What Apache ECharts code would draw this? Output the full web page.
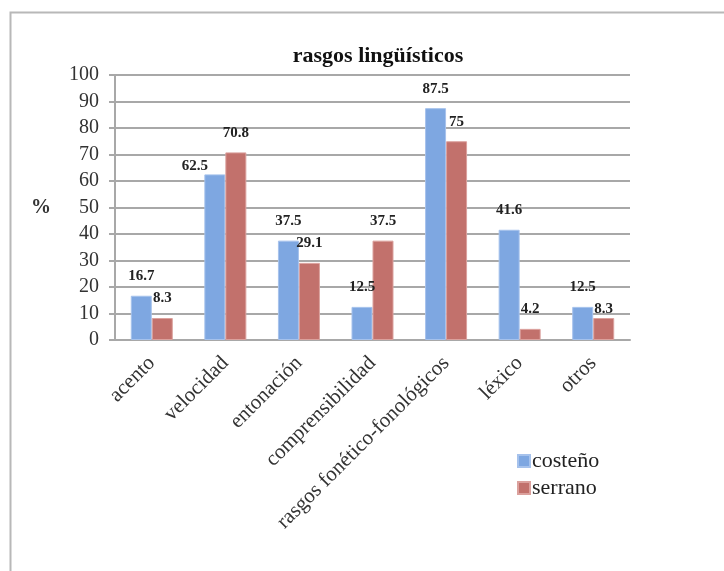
<!DOCTYPE html>
<html><head><meta charset="utf-8">
<script src="https://cdn.jsdelivr.net/npm/echarts@6/dist/echarts.min.js"></script>
<style>html,body{margin:0;padding:0;background:#fff}#c{width:724px;height:571px}</style>
</head><body><div id="c"></div>
<script>
const categories = ['acento','velocidad','entonación','comprensibilidad','rasgos fonético-fonológicos','léxico','otros'];
const costeno = [16.7, 62.5, 37.5, 12.5, 87.5, 41.6, 12.5];
const serrano = [8.3, 70.8, 29.1, 37.5, 75, 4.2, 8.3];
const yTicks = {min: 0, max: 100, interval: 10};
// manual label nudges (Excel moved a couple of labels)
const costenoLabelOffsets = {1: [-20, 11]};
const serranoLabelOffsets = {6: [0, 11]};

const serif = '"Liberation Serif", "DejaVu Serif", serif';
function withOffsets(vals, offs) {
  return vals.map((v, i) => offs[i] ? {value: v, label: {offset: offs[i]}} : v);
}
const chart = echarts.init(document.getElementById('c'));
chart.setOption({
  animation: false,
  backgroundColor: '#fff',
  graphic: [{type: 'rect', left: 8, top: 10, shape: {width: 800, height: 700},
    style: {fill: 'none', stroke: '#b8b8b8', lineWidth: 2}, z: -1}],
  title: {text: 'rasgos lingüísticos', left: 373, top: 40, textAlign: 'center',
    textStyle: {fontFamily: serif, fontWeight: 'bold', fontSize: 22, color: '#111'}},
  legend: {orient: 'vertical', left: 517, top: 450, padding: 0, itemWidth: 12, itemHeight: 12, itemGap: 5,
    icon: 'rect', textStyle: {fontFamily: serif, fontSize: 22, color: '#222', padding: [0, 0, 0, -3]}},
  grid: {left: 115, right: 94, top: 75, bottom: 231},
  xAxis: {type: 'category', data: categories,
    axisLine: {lineStyle: {color: '#a8a8a8', width: 2}},
    axisTick: {length: 6, lineStyle: {color: '#a8a8a8', width: 2}},
    axisLabel: {rotate: 45, margin: 20, interval: 0, fontFamily: serif, fontSize: 21, color: '#333'}},
  yAxis: {type: 'value', min: yTicks.min, max: yTicks.max, interval: yTicks.interval,
    name: '%', nameLocation: 'middle', nameRotate: 0, nameGap: 64,
    nameTextStyle: {fontFamily: serif, fontSize: 20, fontWeight: 'bold', color: '#333'},
    axisLine: {show: true, lineStyle: {color: '#a8a8a8', width: 2}},
    axisTick: {show: true, length: 6, lineStyle: {color: '#a8a8a8', width: 2}},
    splitLine: {lineStyle: {color: '#a8a8a8', width: 2}},
    axisLabel: {margin: 16, fontFamily: serif, fontSize: 20, color: '#333'}},
  series: [
    {name: 'costeño', type: 'bar', data: withOffsets(costeno, costenoLabelOffsets), barWidth: 21, barGap: '0%',
      itemStyle: {color: '#7ea7e1', borderColor: '#a6c2ec', borderWidth: 1},
      label: {show: true, position: 'top', distance: 12, fontFamily: serif, fontWeight: 'bold', fontSize: 15, color: '#222'}},
    {name: 'serrano', type: 'bar', data: withOffsets(serrano, serranoLabelOffsets), barWidth: 21,
      itemStyle: {color: '#c2716c', borderColor: '#dba19d', borderWidth: 1},
      label: {show: true, position: 'top', distance: 12, fontFamily: serif, fontWeight: 'bold', fontSize: 15, color: '#222'}}
  ]
});
</script></body></html>
